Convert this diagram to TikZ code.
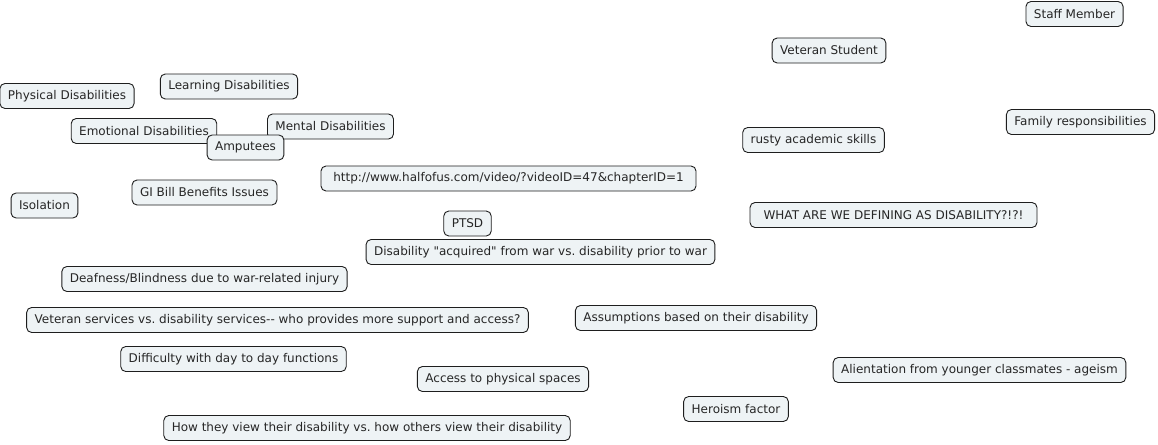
\documentclass[tikz,border=0pt]{standalone}
\usepackage{fontspec}
\setmainfont{DejaVu Sans}[Ligatures=TeXOff]
\frenchspacing
\definecolor{topicfill}{RGB}{238,243,245}
\definecolor{topicdraw}{RGB}{30,30,30}
\tikzset{
  topic/.style={draw=topicdraw, fill=topicfill, line width=0.9pt, rounded corners=5pt,
    minimum height=25pt, inner xsep=8pt, inner ysep=2pt,
    font=\fontsize{12}{14}\selectfont, text=black!85}
}

\begin{document}
\begin{tikzpicture}[x=1pt, y=-1pt]
  \useasboundingbox[fill=white] (0,0) rectangle (1158,444);
  %% top right
  \node[topic] (staff) at (1074.5,14) {Staff Member};
  \node[topic] (vetstudent) at (829,50.5) {Veteran Student};
  \node[topic] (family) at (1080.5,122) {Family responsibilities};
  \node[topic] (rusty) at (813.5,140) {rusty academic skills};
  \node[topic, minimum width=287pt] (defining) at (893.5,215) {WHAT ARE WE DEFINING AS DISABILITY?!?!};
  %% disabilities cluster
  \node[topic] (physical) at (67,96) {Physical Disabilities};
  \node[topic] (learning) at (229,86.5) {Learning Disabilities};
  \node[topic] (emotional) at (144,131) {Emotional Disabilities};
  \node[topic] (mental) at (330.5,126.5) {Mental Disabilities};
  \node[topic] (amputees) at (245.5,147.5) {Amputees};
  %% middle
  \node[topic, minimum width=375pt] (link) at (508.5,178.5) {http://www.halfofus.com/video/?videoID=47\&chapterID=1};
  \node[topic] (gibill) at (204.5,192.5) {GI Bill Benefits Issues};
  \node[topic] (isolation) at (44.5,205.5) {Isolation};
  \node[topic] (ptsd) at (467.5,223.5) {PTSD};
  \node[topic] (acquired) at (540.5,252) {Disability "acquired" from war vs. disability prior to war};
  \node[topic] (deafness) at (204.5,279) {Deafness/Blindness due to war-related injury};
  %% bottom
  \node[topic] (services) at (277.5,320) {Veteran services vs. disability services-- who provides more support and access?};
  \node[topic] (assumptions) at (696,318) {Assumptions based on their disability};
  \node[topic] (difficulty) at (233.5,359) {Difficulty with day to day functions};
  \node[topic] (ageism) at (979.5,370) {Alientation from younger classmates - ageism};
  \node[topic] (access) at (503,379) {Access to physical spaces};
  \node[topic] (heroism) at (736,409) {Heroism factor};
  \node[topic] (view) at (367,428) {How they view their disability vs. how others view their disability};
\end{tikzpicture}
\end{document}
